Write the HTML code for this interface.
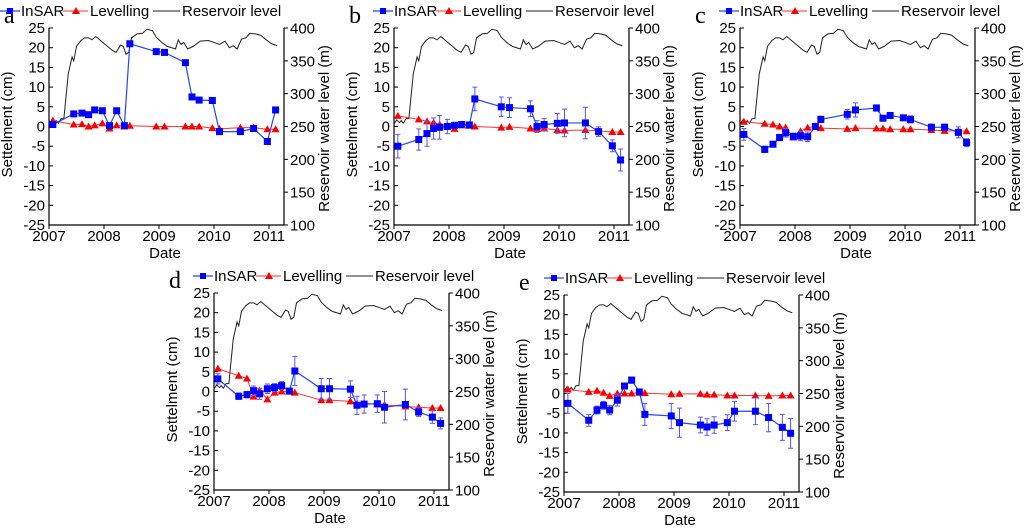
<!DOCTYPE html>
<html><head><meta charset="utf-8"><style>
html,body{margin:0;padding:0;background:#fff}
svg{display:block;font-family:"Liberation Sans",Arial,sans-serif}
</style></head><body>
<svg id="fig" width="1024" height="531" viewBox="0 0 1024 531" xmlns="http://www.w3.org/2000/svg"></svg>
<script>
const dates=[2007.07,2007.45,2007.6,2007.72,2007.83,2007.97,2008.1,2008.23,2008.37,2008.47,2008.95,2009.1,2009.48,2009.6,2009.73,2009.97,2010.1,2010.48,2010.72,2010.97,2011.12];
const resDates=[2007.0,2007.05,2007.1,2007.13,2007.17,2007.22,2007.27,2007.35,2007.42,2007.45,2007.5,2007.58,2007.65,2007.72,2007.78,2007.85,2007.95,2008.05,2008.15,2008.22,2008.3,2008.35,2008.4,2008.45,2008.5,2008.6,2008.7,2008.78,2008.88,2008.95,2009.05,2009.15,2009.3,2009.35,2009.4,2009.45,2009.52,2009.62,2009.75,2009.9,2010.0,2010.1,2010.2,2010.28,2010.35,2010.42,2010.5,2010.58,2010.65,2010.75,2010.85,2010.95,2011.05,2011.15];
const resLevel=[254,260,256,259,255,262,262,330,356,350,372,381,385,385,382,387,380,373,366,363,374,372,360,363,385,391,392,398,396,386,378,372,368,382,375,378,368,372,380,381,378,375,380,370,373,368,383,385,392,391,389,382,376,373];
const insarA=[0.5,3.2,3.4,3.0,4.2,4.0,0.2,4.0,0.2,21,19,18.8,16.2,7.5,6.7,6.6,-1.3,-1.3,-0.5,-3.8,4.2];
const levA=[1.5,0.5,0.6,0,0.3,0.8,-0.5,0.3,0,0.2,0,0,0,0,0,-0.4,-0.6,-0.3,-0.3,-0.7,-0.7];
const insarB=[-5,-3.3,-1.8,-0.5,-0.2,0,0.3,0.5,0.4,7,5,4.8,4.5,0,0.5,0.8,0.9,0.9,-1.3,-4.9,-8.5];
const errB=[3,2.7,3.2,2.7,3,1.8,0.7,0.5,0.4,3,2.5,2.5,2,1.5,1.5,2.5,3.5,4,1.2,1.5,2.8];
const levB=[2.7,1.8,1.3,1,0.5,0.3,-0.6,0.3,0.2,0,-0.3,-0.1,-0.5,-0.6,-0.5,-0.9,-1,-0.9,-1.1,-1.4,-1.4];
const insarC=[-2,-5.8,-4.5,-2.8,-1.6,-2.5,-2.4,-2.6,0,1.8,3.1,4.2,4.7,2.1,2.8,2.2,1.8,-0.2,-0.2,-1.5,-4.1];
const errC=[1.5,0.8,0.6,0.8,1.1,0.8,1.2,1.2,0.5,0.8,1.2,1.8,0.8,0.5,0.5,0.5,0.9,0.8,0.8,1.4,1];
const levC=[1.2,0.7,0.5,0,-0.3,-2.8,-1.2,-0.3,0,-0.4,-0.6,-0.4,-0.5,-0.5,-0.7,-0.7,-0.7,-0.9,-1.1,-1.1,-1.2];
const insarD=[3.2,-1.2,-0.8,0.2,-0.6,0.7,1.0,1.5,0.1,5.2,0.7,0.7,0.6,-3.5,-3.2,-3.1,-4,-3.3,-5.2,-6.5,-8.1];
const errD=[1.3,0.8,0.8,1.2,1.4,1.2,1,1,0.2,3.7,2.6,2.6,2.1,2.3,2.3,2.2,4,3.9,1.1,1.6,1.4];
const levD=[5.8,4,3.3,-1.3,0.3,-2,-0.3,0,0,-0.3,-2.2,-2.2,-2.5,-3,-3,-3.3,-3.4,-3.8,-4,-4.2,-4.2];
const insarE=[-2.5,-6.8,-4.2,-3,-4.2,-1.7,1.9,3.4,0.4,-5.3,-5.7,-7.4,-8,-8.5,-8,-7.4,-4.5,-4.5,-6.1,-8.6,-10.1];
const errE=[2.5,1.5,1,1,1.2,1.5,0.5,0.8,0.3,2.8,3.2,3.7,2,2.1,2.1,2,2.5,3.4,3.6,3.3,3.8];
const levE=[1,0.4,0.7,0.2,-0.6,0,0,0,0.2,0.1,-0.2,-0.1,-0.1,-0.3,-0.3,-0.5,-0.5,-0.5,-0.6,-0.5,-0.5];
const yTicks=[25,20,15,10,5,0,-5,-10,-15,-20,-25];
const rTicks=[400,350,300,250,200,150,100];
const xTicks=[2007,2008,2009,2010,2011];

const NS="http://www.w3.org/2000/svg";
const svg=document.getElementById('fig');
function el(tag,attrs,parent,txt){const e=document.createElementNS(NS,tag);for(const k in attrs)e.setAttribute(k,attrs[k]);if(txt!==undefined)e.textContent=txt;(parent||svg).appendChild(e);return e;}

function panel(id,L,T,letter,ins,err,lev,legX){
  const W=235,H=197;
  const g=el('g',{});
  
  
  const xs=d=>L+(d-2007)*55;
  const ys=v=>T+(25-v)/50*H;
  const yr=v=>T+(400-v)/300*H;
  const ax=el('path',{d:`M${L},${T} V${T+H} H${L+W} V${T}`,fill:'none',stroke:'#000','stroke-width':1.2},g);
  
  
  yTicks.forEach(v=>{
    el('line',{x1:L,x2:L+4,y1:ys(v),y2:ys(v),stroke:'#000'},g);
    const t=el('text',{x:L-4,y:ys(v)+5,'text-anchor':'end','font-size':15},g,String(v));
    
    
  });
  rTicks.forEach(v=>{
    el('line',{x1:L+W,x2:L+W+4,y1:yr(v),y2:yr(v),stroke:'#000'},g);
    const t=el('text',{x:L+W+6,y:yr(v)+5.5,'font-size':15},g,String(v));
    
    
  });
  xTicks.forEach(v=>{
    el('line',{x1:xs(v),x2:xs(v),y1:T+H,y2:T+H+4,stroke:'#000'},g);
    const t=el('text',{x:xs(v),y:T+H+16,'text-anchor':'middle','font-size':15},g,String(v));
    
    
  });
  const yl=el('text',{transform:`translate(${L-37},${T+H/2-2}) rotate(-90)`,'text-anchor':'middle','font-size':15},g,'Settelment (cm)');
  
  
  const rl=el('text',{transform:`translate(${L+W+45},${T+H/2+2}) rotate(-90)`,'text-anchor':'middle','font-size':15},g,'Reservoir water level (m)');
  
  
  const xl=el('text',{x:L+116,y:T+H+33,'text-anchor':'middle','font-size':15},g,'Date');
  
  
  const lt=el('text',{x:L-45,y:T-5,'font-size':24,'font-family':'Liberation Serif, serif'},g,letter);
  
  
  const rp=el('polyline',{points:resDates.map((d,i)=>xs(d)+','+yr(resLevel[i])).join(' '),fill:'none',stroke:'#222','stroke-width':1},g);
  
  
  const lp=el('polyline',{points:dates.map((d,i)=>xs(d)+','+ys(lev[i])).join(' '),fill:'none',stroke:'#f33','stroke-width':1},g);
  
  
  dates.forEach((d,i)=>{
    const x=xs(d),y=ys(lev[i]);
    const m=el('polygon',{points:`${x},${y-4} ${x-4},${y+3} ${x+4},${y+3}`,fill:'#f00'},g);
    
    
  });
  if(err){dates.forEach((d,i)=>{
    const x=xs(d),y1=ys(ins[i]+err[i]),y2=ys(ins[i]-err[i]);
    const e=el('path',{d:`M${x},${y1} V${y2} M${x-2.5},${y1} H${x+2.5} M${x-2.5},${y2} H${x+2.5}`,stroke:'#55f','stroke-width':1,fill:'none'},g);
    
    
  });}
  const ip=el('polyline',{points:dates.map((d,i)=>xs(d)+','+ys(ins[i])).join(' '),fill:'none',stroke:'#24f','stroke-width':1.2},g);
  
  
  dates.forEach((d,i)=>{
    const m=el('rect',{x:xs(d)-3.5,y:ys(ins[i])-3.5,width:7,height:7,fill:'#00f'},g);
    
    
  });
  const lg=el('g',{},g);
  
  
  const ly=T-17, lx=L+legX;
  el('line',{x1:lx,x2:lx+20,y1:ly,y2:ly,stroke:'#24f','stroke-width':1.2},lg);
  el('rect',{x:lx+7,y:ly-3,width:6,height:6,fill:'#00f'},lg);
  el('text',{x:lx+21,y:ly+5,'font-size':15},lg,'InSAR');
  el('line',{x1:lx+63,x2:lx+88,y1:ly,y2:ly,stroke:'#f33'},lg);
  el('polygon',{points:`${lx+76},${ly-4} ${lx+72},${ly+3} ${lx+80},${ly+3}`,fill:'#f00'},lg);
  el('text',{x:lx+90,y:ly+5,'font-size':15},lg,'Levelling');
  el('line',{x1:lx+153,x2:lx+180,y1:ly,y2:ly,stroke:'#222'},lg);
  el('text',{x:lx+182,y:ly+5,'font-size':15},lg,'Reservoir level');
}
panel('a',49,28,'a',insarA,null,levA,-49);
panel('b',394,28,'b',insarB,errB,levB,-21);
panel('c',740,28,'c',insarC,errC,levC,-21);
panel('d',214,293,'d',insarD,errD,levD,-21);
panel('e',564,295,'e',insarE,errE,levE,-20);
</script>
</body></html>
